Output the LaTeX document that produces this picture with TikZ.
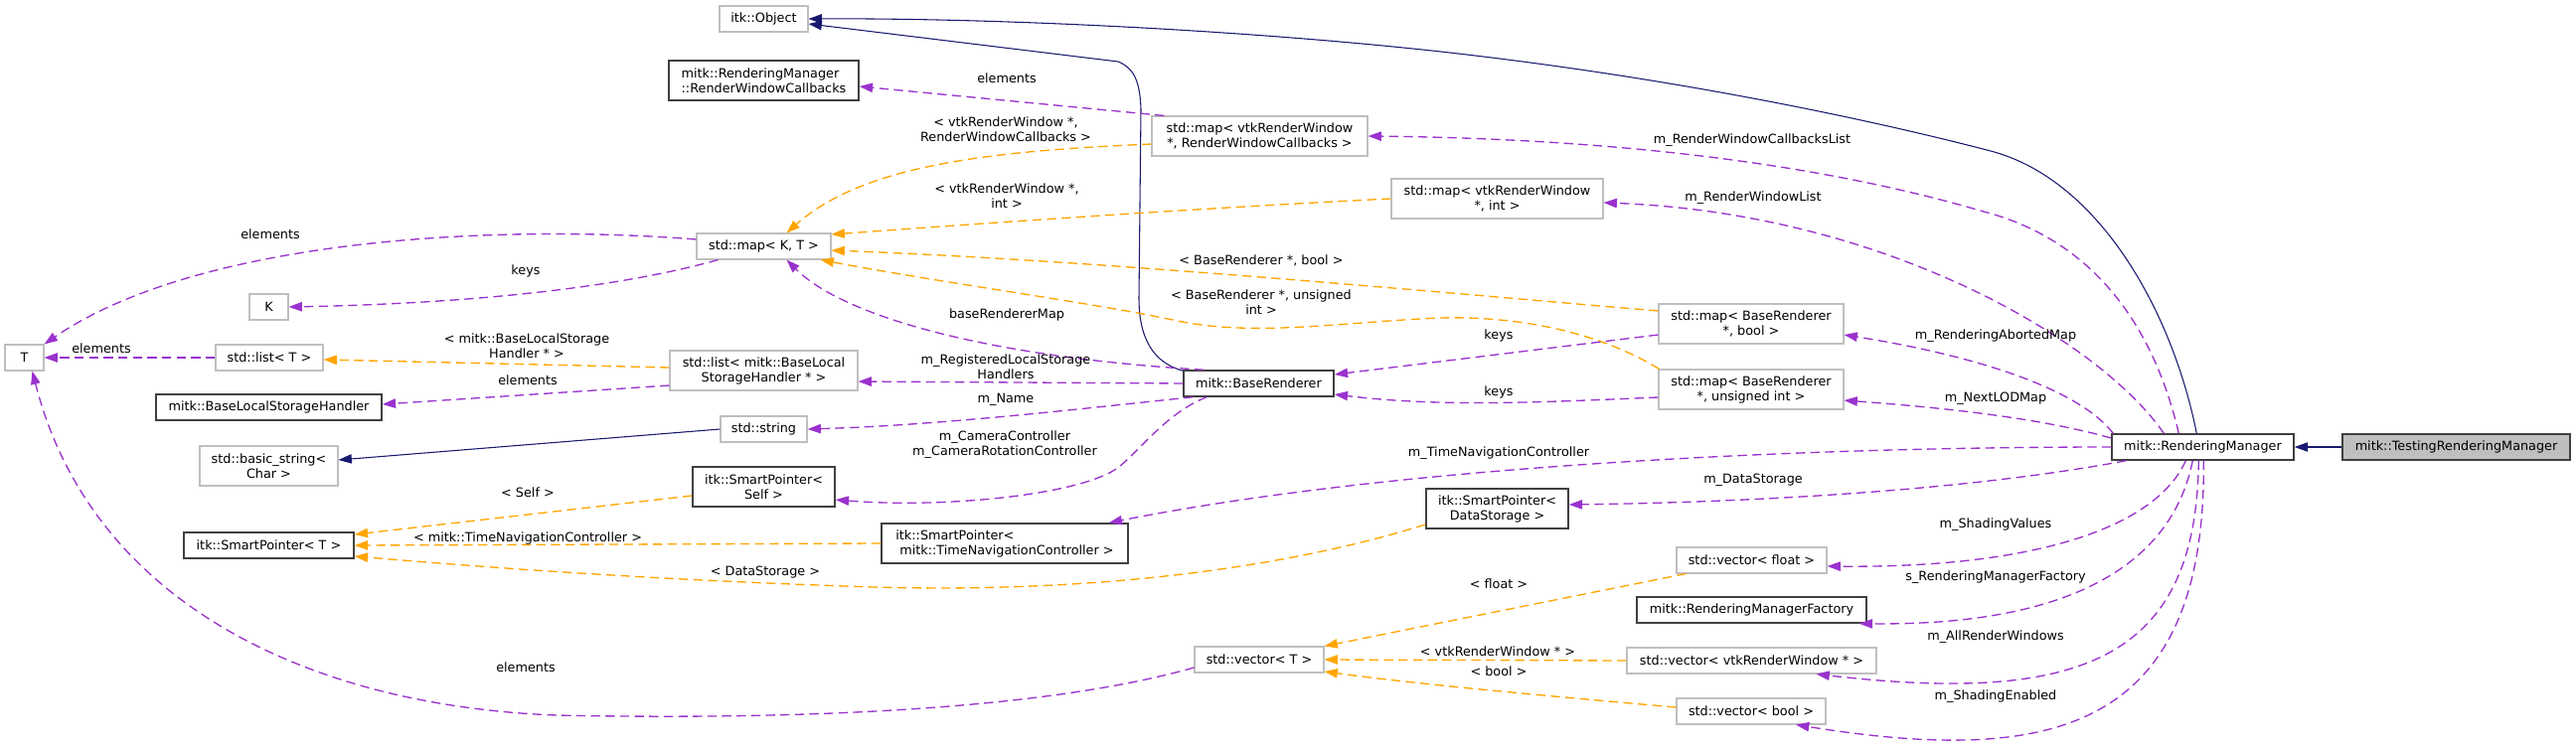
\documentclass[tikz,border=0pt]{standalone}
\usepackage{fontspec}
\setmainfont{DejaVu Sans}
\usetikzlibrary{arrows.meta,calc}
\definecolor{inhblue}{HTML}{191970}
\definecolor{usepurple}{HTML}{9A32CD}
\definecolor{tplorange}{HTML}{FFA500}
\definecolor{boxgrey}{HTML}{BFBFBF}
\definecolor{boxdark}{HTML}{404040}
\newcommand\dxfont{\fontsize{9.6}{11.25}\selectfont}
\begin{document}
\begin{tikzpicture}[x=0.75pt,y=-0.75pt,
  dxbase/.style={rectangle, inner sep=0pt, align=center, font=\dxfont, fill=white},
  ubox/.style 2 args={dxbase, draw=boxgrey, line width=0.8pt, minimum width=#1*0.75pt, minimum height=#2*0.75pt},
  dbox/.style 2 args={dxbase, draw=boxdark, line width=1.1pt, minimum width=#1*0.75pt, minimum height=#2*0.75pt},
  focusbox/.style 2 args={dbox={#1}{#2}, fill=boxgrey},
  lbl/.style={inner sep=0pt, align=center, font=\dxfont},
  arrowtip/.style={-{Triangle[length=10pt,width=7pt]}},
  inhedge/.style={arrowtip, draw=inhblue, line width=0.8pt},
  useedge/.style={arrowtip, draw=usepurple, line width=1pt, dash pattern=on 7pt off 4pt},
  tpledge/.style={arrowtip, draw=tplorange, line width=1pt, dash pattern=on 7pt off 4pt},
]
\fill[white] (0,0) rectangle (2592,754);
\useasboundingbox (0,0) rectangle (2592,754);

% nodes
\node[ubox={89}{26}] (obj) at (768.5,19) {itk::Object};
\node[dbox={191}{40}, align=left] (rwcb) at (768.5,81) {mitk::RenderingManager\\::RenderWindowCallbacks};
\node[ubox={217}{40}] (rwcmap) at (1267.5,137) {std::map< vtkRenderWindow\\*, RenderWindowCallbacks >};
\node[ubox={213}{40}] (vtkint) at (1506.5,200) {std::map< vtkRenderWindow\\*, int >};
\node[ubox={135}{26}] (kt) at (768.5,248) {std::map< K, T >};
\node[ubox={39}{26}] (K) at (270.5,309) {K};
\node[ubox={39}{26}] (T) at (24.5,360) {T};
\node[ubox={108}{26}] (listT) at (271,360) {std::list< T >};
\node[ubox={189}{40}] (listbl) at (768.5,373) {std::list< mitk::BaseLocal\\StorageHandler * >};
\node[dbox={227}{26}] (blsh) at (270.5,410) {mitk::BaseLocalStorageHandler};
\node[dbox={151}{26}] (br) at (1266.5,386) {mitk::BaseRenderer};
\node[ubox={186}{40}] (brbool) at (1762,326) {std::map< BaseRenderer\\*, bool >};
\node[ubox={186}{40}] (bruint) at (1762,392) {std::map< BaseRenderer\\*, unsigned int >};
\node[ubox={87}{26}] (string) at (768.5,432) {std::string};
\node[ubox={139}{40}] (bstring) at (270.5,469) {std::basic\_string<\\Char >};
\node[dbox={143}{40}] (spself) at (768.5,490) {itk::SmartPointer<\\Self >};
\node[dbox={171}{26}] (spT) at (270.5,549) {itk::SmartPointer< T >};
\node[dbox={248}{40}, align=left] (sptn) at (1011,547) {itk::SmartPointer<\\\hspace*{3pt}mitk::TimeNavigationController >};
\node[dbox={143}{40}] (spds) at (1506.5,512) {itk::SmartPointer<\\DataStorage >};
\node[dbox={183}{26}] (rm) at (2216.5,450) {mitk::RenderingManager};
\node[focusbox={229}{26}] (trm) at (2471.5,450) {mitk::TestingRenderingManager};
\node[ubox={151}{26}] (vfloat) at (1762.5,564) {std::vector< float >};
\node[dbox={231}{26}] (fac) at (1762.5,614) {mitk::RenderingManagerFactory};
\node[ubox={251}{26}] (vvtk) at (1762.5,665) {std::vector< vtkRenderWindow * >};
\node[ubox={150}{26}] (vbool) at (1762,716) {std::vector< bool >};
\node[ubox={130}{26}] (vT) at (1267,664) {std::vector< T >};

% inheritance
\draw[inhedge] ($(rm.north west)+(86,0)$) .. controls (2185,310) and (2110,180) .. (2003,152) .. controls (1900,125) and (1700,80) .. (1450,52) .. controls (1250,30) and (1000,18) .. (obj.east);
\draw[inhedge] ($(br.north west)+(0,1)$) .. controls (1160,365) and (1146,340) .. (1146,300) -- (1148,110) .. controls (1147,80) and (1140,68) .. (1125,62) -- ($(obj.east)+(0,5)$);
\draw[inhedge] (trm.west) -- (rm.east);
\draw[inhedge] (string.west) -- ($(bstring.east)+(0,-6)$);

% usage / template edges
\draw[useedge] ($(rwcmap.north west)+(13,0)$) -- ($(rwcb.east)+(0,6)$);
\draw[tpledge] ($(rwcmap.west)+(0,8)$) .. controls (1000,152) and (870,165) .. ($(kt.north)+(23,0)$);
\draw[tpledge] (vtkint.west) .. controls (1200,210) and (1000,224) .. ($(kt.east)+(0,-12)$);
\draw[tpledge] ($(brbool.west)+(0,-13)$) .. controls (1400,290) and (1100,262) .. ($(kt.east)+(0,4)$);
\draw[tpledge] ($(bruint.north west)+(1,0)$) .. controls (1610,335) and (1530,318) .. (1450,320) .. controls (1350,324) and (1260,340) .. (1180,322) .. controls (1100,305) and (950,285) .. ($(kt.south east)+(-11,0)$);
\draw[useedge] ($(kt.west)+(0,-7)$) .. controls (500,225) and (200,240) .. (T.north east);
\draw[useedge] ($(kt.south west)+(22,0)$) .. controls (640,285) and (500,305) .. (K.east);
\draw[useedge] (listT.west) -- (T.east);
\draw[useedge] ($(vT.west)+(0,8)$) .. controls (1050,715) and (800,725) .. (560,720) .. controls (300,710) and (90,600) .. ($(T.south)+(8,0)$);
\draw[tpledge] ($(listbl.west)+(0,-3)$) -- ($(listT.east)+(0,2)$);
\draw[useedge] ($(listbl.west)+(0,15)$) -- ($(blsh.east)+(0,-3)$);
\draw[useedge] (br.west) -- ($(listbl.east)+(0,11)$);
\draw[useedge] ($(br.south west)+(10,0)$) .. controls (1100,410) and (950,428) .. (string.east);
\draw[useedge] ($(br.south west)+(24,0)$) .. controls (1175,415) and (1150,450) .. (1126,470) .. controls (1090,498) and (950,512) .. ($(spself.east)+(0,13)$);
\draw[useedge] ($(br.north west)+(21,0)$) .. controls (1000,360) and (850,320) .. ($(kt.south)+(23,0)$);
\draw[useedge] ($(brbool.west)+(0,11)$) -- ($(br.east)+(0,-9)$);
\draw[useedge] ($(bruint.west)+(0,8)$) .. controls (1550,405) and (1450,410) .. ($(br.east)+(0,11)$);

\draw[useedge] ($(rm.north west)+(68,0)$) .. controls (2165,320) and (2100,240) .. (1996,213) .. controls (1850,170) and (1650,140) .. (rwcmap.east);
\draw[useedge] ($(rm.north west)+(53,0)$) .. controls (2115,345) and (1900,215) .. ($(vtkint.east)+(0,4)$);
\draw[useedge] ($(rm.north west)+(2,0)$) .. controls (2095,395) and (2000,360) .. ($(brbool.east)+(0,11)$);
\draw[useedge] ($(rm.west)+(0,-9)$) .. controls (2050,420) and (1950,410) .. ($(bruint.east)+(0,11)$);
\draw[useedge] (rm.west) .. controls (1800,450) and (1400,470) .. ($(sptn.north east)+(-20,0)$);
\draw[useedge] ($(rm.south west)+(15,0)$) .. controls (2000,490) and (1800,505) .. ($(spds.east)+(0,-4)$);
\draw[useedge] ($(rm.south west)+(75,0)$) .. controls (2170,530) and (2050,572) .. ($(vfloat.east)+(0,6)$);
\draw[useedge] ($(rm.south west)+(82,0)$) .. controls (2185,570) and (2080,630) .. ($(fac.south east)+(-8,0)$);
\draw[useedge] ($(rm.south west)+(88,0)$) .. controls (2210,660) and (2100,710) .. ($(vvtk.south)+(65,0)$);
\draw[useedge] ($(rm.south west)+(93,0)$) .. controls (2220,740) and (2060,770) .. ($(vbool.south)+(45,0)$);

\draw[tpledge] ($(vfloat.south west)+(10,0)$) -- (vT.north east);
\draw[tpledge] (vvtk.west) -- (vT.east);
\draw[tpledge] ($(vbool.west)+(0,-4)$) .. controls (1550,700) and (1420,688) .. ($(vT.east)+(0,12)$);
\draw[tpledge] ($(spself.west)+(0,9)$) -- ($(spT.east)+(0,-11)$);
\draw[tpledge] (sptn.west) -- (spT.east);
\draw[tpledge] ($(spds.west)+(0,16)$) .. controls (1300,570) and (1100,600) .. (850,590) .. controls (650,583) and (500,572) .. ($(spT.east)+(0,11)$);

% labels
\node[lbl] (l01) at (1013,79) {elements};
\node[lbl] (l02) at (1012,130) {< vtkRenderWindow *,\\RenderWindowCallbacks >};
\node[lbl] (l03) at (1013,197) {< vtkRenderWindow *,\\int >};
\node[lbl] (l04) at (1269,262) {< BaseRenderer *, bool >};
\node[lbl] (l05) at (1269,304) {< BaseRenderer *, unsigned\\int >};
\node[lbl] (l06) at (272,236) {elements};
\node[lbl] (l07) at (529,273) {keys};
\node[lbl] (l08) at (102,351) {elements};
\node[lbl] (l09) at (530,348) {< mitk::BaseLocalStorage\\Handler * >};
\node[lbl] (l10) at (531,383) {elements};
\node[lbl] (l11) at (1012,369) {m\_RegisteredLocalStorage\\Handlers};
\node[lbl] (l12) at (1012,402) {m\_Name};
\node[lbl] (l13) at (1011,448) {m\_CameraController\\m\_CameraRotationController};
\node[lbl] (l14) at (1013,317) {baseRendererMap};
\node[lbl] (l15) at (1508,338) {keys};
\node[lbl] (l16) at (1508,395) {keys};
\node[lbl] (l17) at (1763,141) {m\_RenderWindowCallbacksList};
\node[lbl] (l18) at (1764,199) {m\_RenderWindowList};
\node[lbl] (l19) at (2008,338) {m\_RenderingAbortedMap};
\node[lbl] (l20) at (2008,401) {m\_NextLODMap};
\node[lbl] (l21) at (1508,456) {m\_TimeNavigationController};
\node[lbl] (l22) at (1764,483) {m\_DataStorage};
\node[lbl] (l23) at (2008,528) {m\_ShadingValues};
\node[lbl] (l24) at (2008,581) {s\_RenderingManagerFactory};
\node[lbl] (l25) at (2008,641) {m\_AllRenderWindows};
\node[lbl] (l26) at (2008,701) {m\_ShadingEnabled};
\node[lbl] (l27) at (1508,588) {< float >};
\node[lbl] (l28) at (1507,656) {< vtkRenderWindow * >};
\node[lbl] (l29) at (1508,676) {< bool >};
\node[lbl] (l30) at (531,496) {< Self >};
\node[lbl] (l31) at (531,542) {< mitk::TimeNavigationController >};
\node[lbl] (l32) at (770,576) {< DataStorage >};
\node[lbl] (l33) at (529,672) {elements};
\end{tikzpicture}
\end{document}
